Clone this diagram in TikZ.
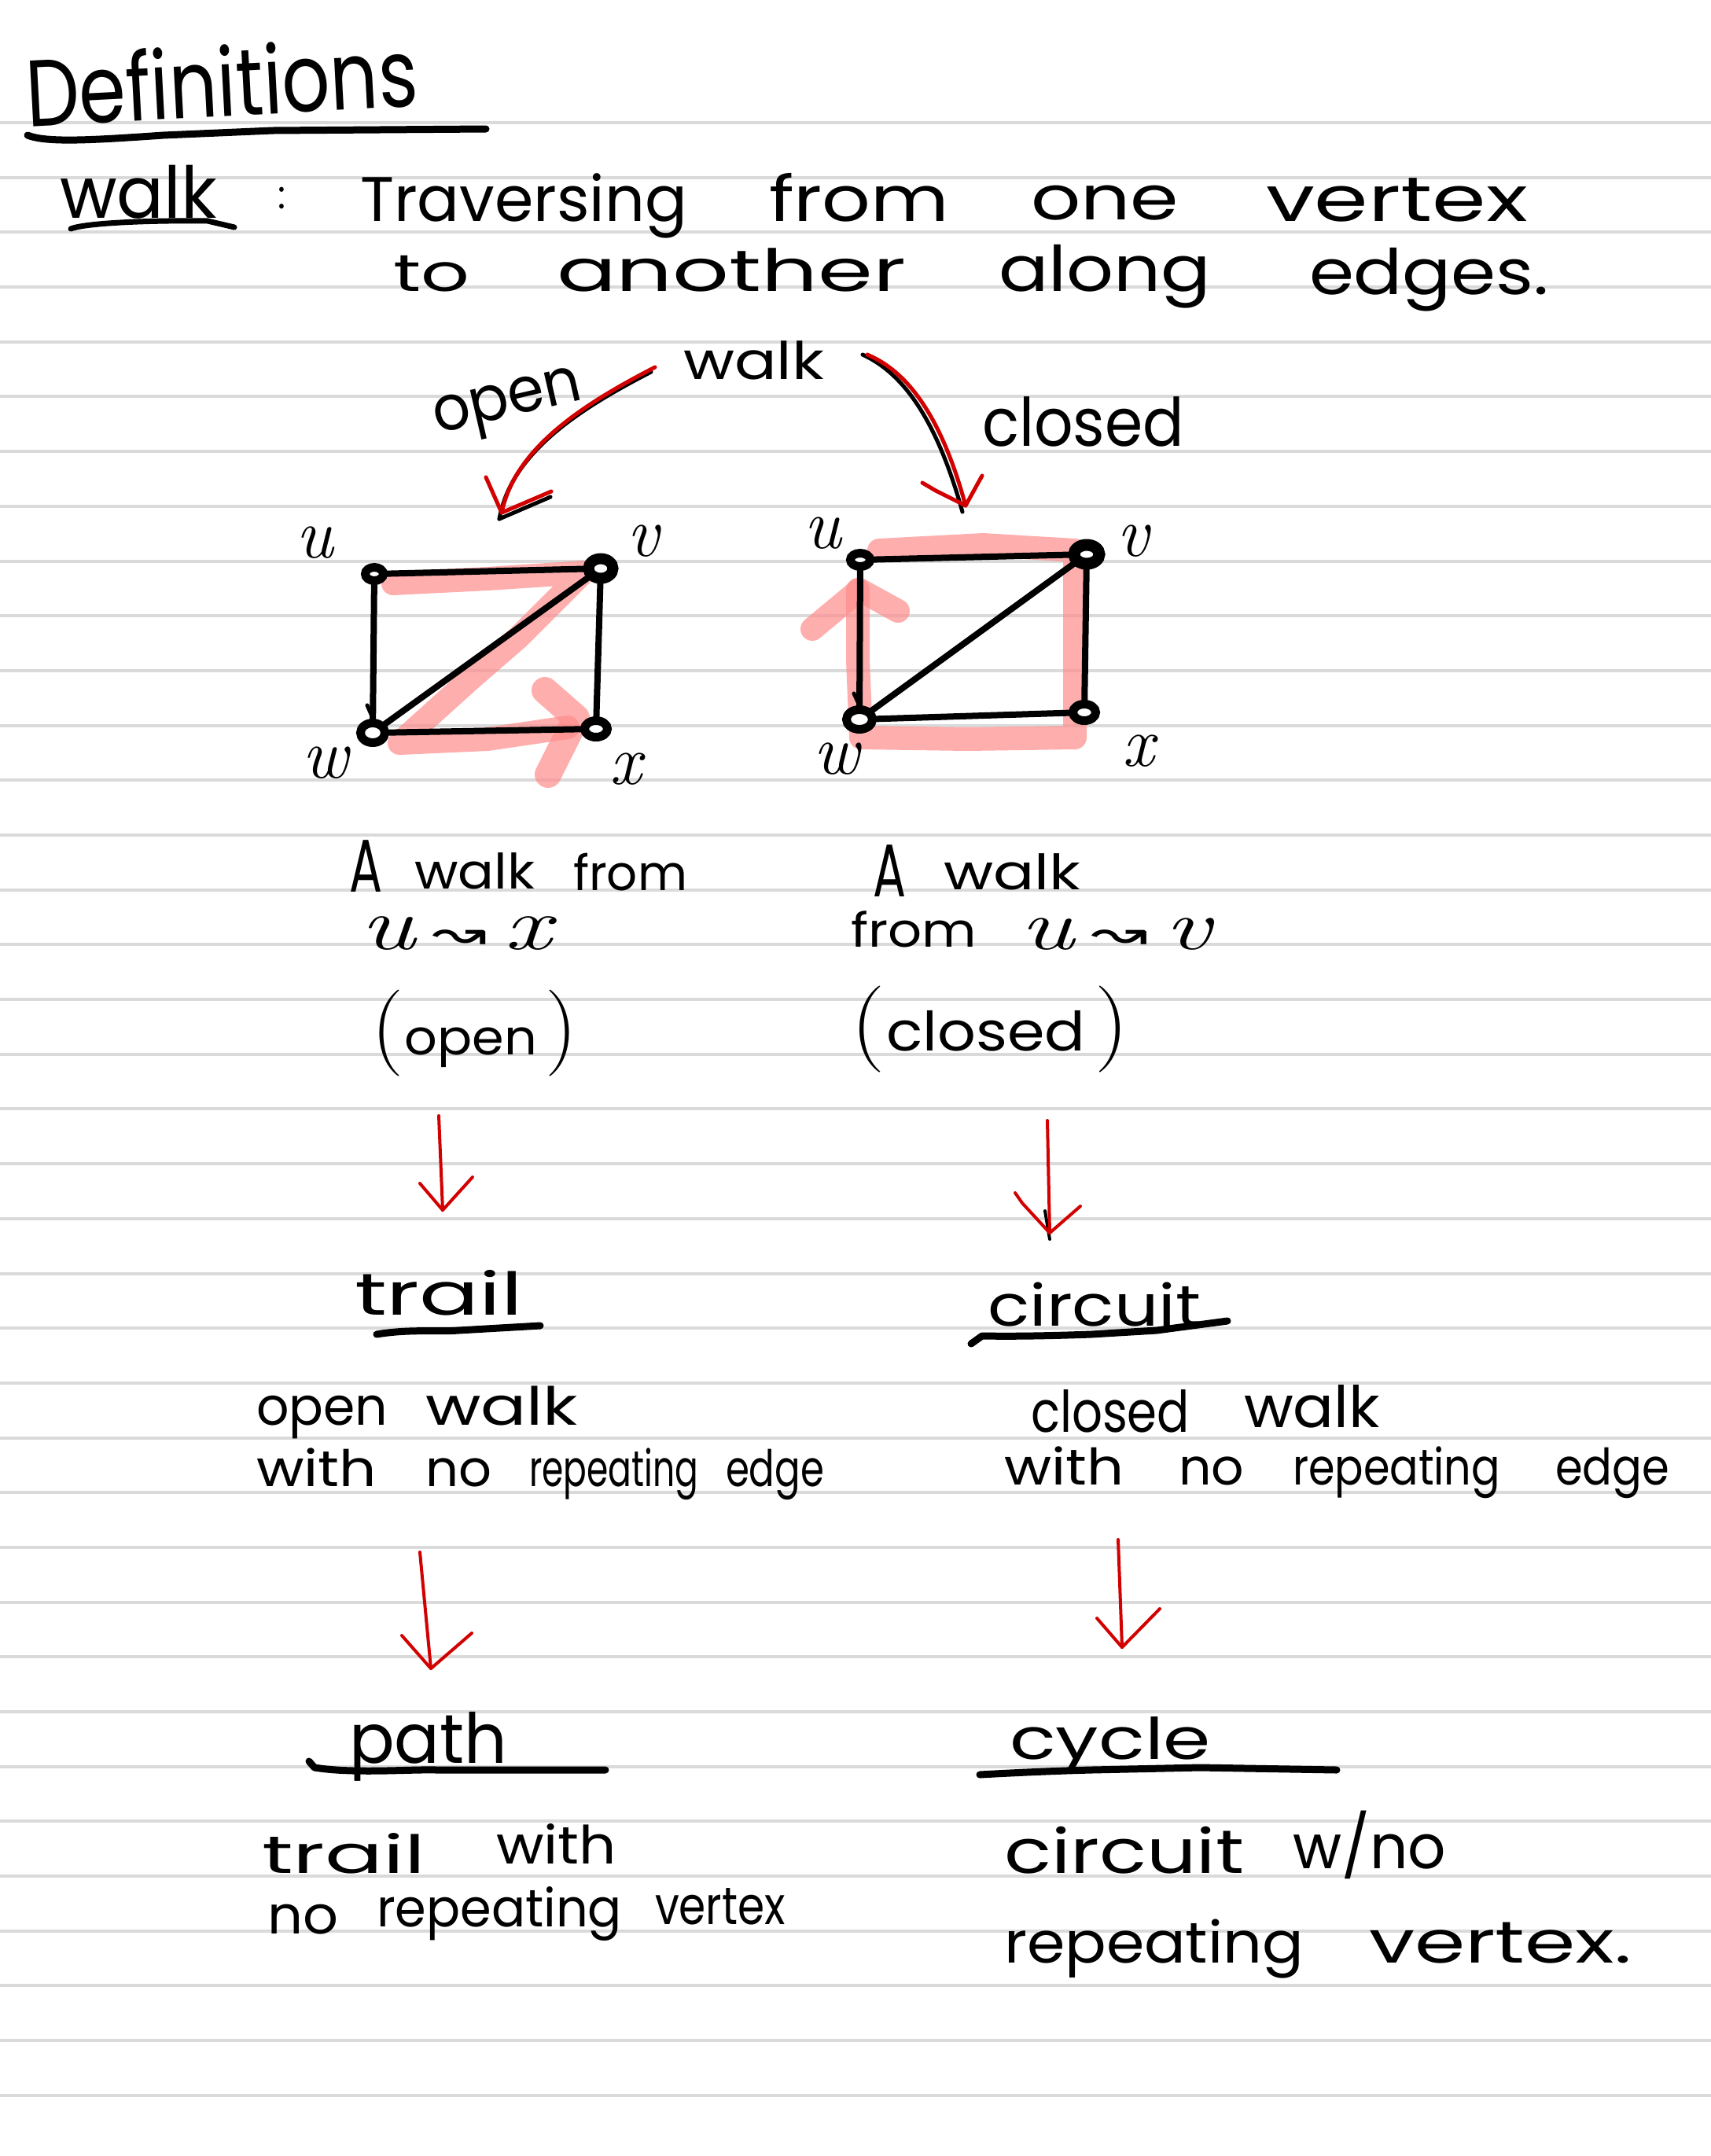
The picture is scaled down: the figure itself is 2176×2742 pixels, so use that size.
\documentclass[tikz,border=0pt]{standalone}
\usepackage{fontspec}
\usepackage{graphicx}
\usetikzlibrary{shapes.geometric}
\newfontfamily\hand{Poppins}
\newfontfamily\symfont{DejaVu Sans}
\newcommand\setfs[1]{\fontsize{#1}{#1}\selectfont}
\newcommand\lmit{\normalfont\itshape}
\newcommand\lmpar[1]{{\normalfont\setfs{110}#1}}
\newcommand\hwd[3]{\resizebox{#1pt}{\height}{\setfs{#2}#3}}
\definecolor{penred}{RGB}{210,0,0}
\definecolor{hlpink}{RGB}{255,140,140}
\definecolor{paperline}{RGB}{218,218,218}
\tikzset{
  paper/.style={draw=paperline, line width=4pt},
  ink/.style={draw=black, line width=8pt, line cap=round, line join=round},
  uline/.style={draw=black, line width=9pt, line cap=round, line join=round},
  redpen/.style={draw=penred, line width=5pt, line cap=round, line join=round},
  shadowpen/.style={draw=black, line width=5pt, line cap=round, line join=round},
  hilite/.style={draw=hlpink, line width=30pt, line cap=round, line join=round, opacity=0.7},
  vtx/.style={ellipse, draw=black, fill=white, line width=11pt, inner sep=0pt, outer sep=0pt},
  hw/.style={anchor=base west, inner sep=0pt, outer sep=0pt, font=\hand},
  lbl/.style={anchor=center, inner sep=0pt, font=\lmit\setfs{90}},
}
\begin{document}
\begin{tikzpicture}[x=1pt,y=-1pt]
\useasboundingbox (0,0) rectangle (2176,2742);
\fill[white] (0,0) rectangle (2176,2742);
% ruled paper
\foreach \k in {0,...,36} {\draw[paper] (0,{156+69.69*\k}) -- (2176,{156+69.69*\k});}

% ---------- heading ----------
\node[hw, rotate=3] (tDef) at (35,161) {\hwd{499}{120}{Definitions}};
\draw[uline] (35,172) .. controls (60,182) and (120,178) .. (208,172) -- (347,166) -- (618,164);
\node[hw] (tWalk) at (76,277) {\hwd{200}{91}{walk}};
\draw[uline, line width=7pt] (90,291) .. controls (110,283) and (200,280) .. (264,281) -- (298,289);
\node[hw] (tColon) at (353,265) {\hwd{10}{50}{:}};
\node[hw] (w1) at (458,281) {\hwd{416}{80}{Traversing}};
\node[hw] (w2) at (978,281) {\hwd{229}{80}{from}};
\node[hw] (w3) at (1311,279) {\hwd{188}{78}{one}};
\node[hw] (w4) at (1610,281) {\hwd{333}{80}{vertex}};
\node[hw] (w5) at (500,370) {\hwd{97}{66}{to}};
\node[hw] (w6) at (708,370) {\hwd{444}{74}{another}};
\node[hw] (w7) at (1270,370) {\hwd{270}{80}{along}};
\node[hw] (w8) at (1665,374) {\hwd{305}{80}{edges.}};

% ---------- walk -> open / closed ----------
\node[hw] (mWalk) at (869,482) {\hwd{179}{66}{walk}};
\node[hw, rotate=13] (mOpen) at (556,551) {\hwd{192}{80}{open}};
\node[hw] (mClosed) at (1249,567) {\hwd{257}{85}{closed}};

\coordinate (oa1) at (833,467);
\coordinate (oa2) at (638,652);
\coordinate (ca1) at (1103,451);
\coordinate (ca2) at (1228,643);
\draw[shadowpen] ([xshift=-5pt,yshift=-6pt]oa1) .. controls (735,521) and (650,576) .. ([xshift=-3pt,yshift=-8pt]oa2);
\draw[shadowpen] ([xshift=-3pt,yshift=-8pt]oa2) -- (700,632);
\draw[redpen] (oa1) .. controls (740,515) and (655,570) .. (oa2);
\draw[redpen] (618,607) -- (oa2) -- (701,625);
\draw[shadowpen] ([xshift=-6pt]ca1) .. controls (1154,477) and (1194,544) .. ([xshift=-4pt,yshift=-8pt]ca2);
\draw[redpen] (ca1) .. controls (1160,475) and (1200,540) .. (ca2);
\draw[redpen] (1173,614) -- (1190,624) -- (ca2) -- (1249,605);

% ---------- left graph ----------
\draw[hilite] (500,742) -- (620,736) -- (742,728) -- (660,810) -- (600,862) -- (508,945) -- (620,940) -- (722,925);
\draw[hilite, line width=34pt] (693,878) -- (733,913) -- (697,985);
\node[vtx, minimum width=23pt, minimum height=17pt] (lu) at (476,730) {};
\node[vtx, minimum width=31pt, minimum height=25pt, line width=14pt] (lv) at (764,723) {};
\node[vtx, minimum width=31pt, minimum height=25pt] (lw) at (474,932) {};
\node[vtx, minimum width=29pt, minimum height=21pt] (lx) at (758,927) {};
\draw[ink] (lu) -- (lv);
\draw[ink] (lu) -- (lw);
\draw[ink] (lv) -- (lw);
\draw[ink] (lv) -- (lx);
\draw[ink] (lw) -- (lx);
\draw[ink, line width=5pt] (467,897) -- (474,913);
\node[lbl] (llu) at (400,690) {u};
\node[lbl] (llv) at (818,688) {v};
\node[lbl] (llw) at (414,970) {w};
\node[lbl] (llx) at (796,978) {x};

% ---------- right graph ----------
\draw[hilite] (1118,700) -- (1250,693) -- (1367,700) -- (1367,820) -- (1367,938) -- (1230,940) -- (1095,938) -- (1091,840) -- (1091,750);
\draw[hilite] (1033,800) -- (1093,750) -- (1142,777);
\node[vtx, minimum width=25pt, minimum height=17pt] (ru) at (1094,712) {};
\node[vtx, minimum width=32pt, minimum height=24pt, line width=15pt] (rv) at (1382,705) {};
\node[vtx, minimum width=33pt, minimum height=25pt] (rw) at (1093,915) {};
\node[vtx, minimum width=29pt, minimum height=21pt] (rx) at (1379,906) {};
\draw[ink] (ru) -- (rv);
\draw[ink] (ru) -- (rw);
\draw[ink] (rv) -- (rw);
\draw[ink] (rv) -- (rx);
\draw[ink] (rw) -- (rx);
\draw[ink, line width=5pt] (1086,882) -- (1092,895);
\node[lbl] (rlu) at (1046,678) {u};
\node[lbl] (rlv) at (1441,688) {v};
\node[lbl] (rlw) at (1064,965) {w};
\node[lbl] (rlx) at (1448,955) {x};

% ---------- descriptions ----------
\node[hw] (a1) at (444,1134) {\hwd{42}{95}{A}};
\node[hw] (a2) at (527,1130) {\hwd{153}{62}{walk}};
\node[hw] (a3) at (729,1132) {\hwd{145}{62}{from}};
\node[hw] (a4) at (458,1207) {\resizebox{243pt}{\height}{\lmit\setfs{95}u\,{\symfont\setfs{60}↝}\,x}};
\node[hw] (a5) at (472,1341) {\resizebox{263pt}{\height}{\lmpar{(}\,\setfs{62}open\,\lmpar{)}}};

\node[hw] (b1) at (1110,1140) {\hwd{42}{95}{A}};
\node[hw] (b2) at (1200,1131) {\hwd{174}{62}{walk}};
\node[hw] (b3) at (1082,1204) {\hwd{160}{60}{from}};
\node[hw] (b4) at (1297,1207) {\resizebox{243pt}{\height}{\lmit\setfs{90}u\,{\symfont\setfs{60}↝}\,v}};
\node[hw] (b5) at (1082,1336) {\resizebox{354pt}{\height}{\lmpar{(}\,\setfs{69}closed\,\lmpar{)}}};

% red arrows down
\coordinate (s1a) at (558,1419); \coordinate (s1b) at (563,1539);
\coordinate (s2a) at (1332,1425); \coordinate (s2b) at (1335,1568);
\coordinate (s3a) at (534,1974); \coordinate (s3b) at (548,2122);
\coordinate (s4a) at (1422,1958); \coordinate (s4b) at (1427,2095);
\draw[redpen, line width=4pt] (s1a) -- (s1b);
\draw[redpen, line width=4pt] (534,1505) -- (s1b) -- (601,1497);
\draw[shadowpen, line width=4pt] (1329,1540) -- ([yshift=-8pt]s2b);
\draw[redpen, line width=4pt] (s2a) -- (s2b);
\draw[redpen, line width=4pt] (1291,1517) -- (1300,1530) -- (s2b) -- (1374,1534);
\draw[redpen, line width=4pt] (s3a) -- (s3b);
\draw[redpen, line width=4pt] (511,2080) -- (s3b) -- (600,2077);
\draw[redpen, line width=4pt] (s4a) -- (s4b);
\draw[redpen, line width=4pt] (1395,2058) -- (s4b) -- (1475,2046);

% ---------- trail / circuit ----------
\node[hw] (c1) at (451,1672) {\hwd{214}{75}{trail}};
\draw[uline] (479,1697) .. controls (520,1690) and (560,1694) .. (583,1692) -- (687,1686);
\node[hw] (c2) at (1256,1686) {\hwd{271}{73}{circuit}};
\draw[uline] (1235,1709) -- (1249,1699) .. controls (1300,1700) and (1360,1698) .. (1388,1697) -- (1471,1692) -- (1561,1680);
\node[hw] (c3) at (326,1812) {\hwd{167}{67}{open}};
\node[hw] (c4) at (541,1812) {\hwd{194}{67}{walk}};
\node[hw] (c5) at (326,1890) {\hwd{153}{64}{with}};
\node[hw] (c6) at (541,1890) {\hwd{84}{64}{no}};
\node[hw] (c7) at (673,1890) {\hwd{215}{64}{repeating}};
\node[hw] (c8) at (923,1890) {\hwd{125}{64}{edge}};
\node[hw] (d1) at (1311,1821) {\hwd{202}{73}{closed}};
\node[hw] (d2) at (1582,1815) {\hwd{173}{73}{walk}};
\node[hw] (d3) at (1277,1888) {\hwd{152}{64}{with}};
\node[hw] (d4) at (1499,1888) {\hwd{83}{64}{no}};
\node[hw] (d5) at (1644,1888) {\hwd{264}{64}{repeating}};
\node[hw] (d6) at (1978,1888) {\hwd{145}{64}{edge}};

% ---------- path / cycle ----------
\node[hw] (e1) at (444,2242) {\hwd{201}{88}{path}};
\draw[uline] (393,2240) -- (400,2248) .. controls (450,2256) and (520,2250) .. (555,2251) -- (770,2251);
\node[hw] (e2) at (1284,2237) {\hwd{256}{73}{cycle}};
\draw[uline] (1246,2257) .. controls (1300,2254) and (1350,2252) .. (1388,2251) -- (1526,2248) -- (1700,2251);
\node[hw] (e3) at (333,2382) {\hwd{208}{67}{trail}};
\node[hw] (e4) at (631,2370) {\hwd{153}{67}{with}};
\node[hw] (e5) at (340,2459) {\hwd{90}{67}{no}};
\node[hw] (e6) at (479,2450) {\hwd{312}{67}{repeating}};
\node[hw] (e7) at (833,2447) {\hwd{166}{67}{vertex}};
\node[hw] (f1) at (1277,2382) {\hwd{305}{78}{circuit}};
\node[hw] (f2) at (1644,2376) {\hwd{195}{78}{w/no}};
\node[hw] (f3) at (1277,2496) {\hwd{381}{73}{repeating}};
\node[hw] (f4) at (1741,2496) {\hwd{334}{75}{vertex.}};
\end{tikzpicture}
\end{document}
